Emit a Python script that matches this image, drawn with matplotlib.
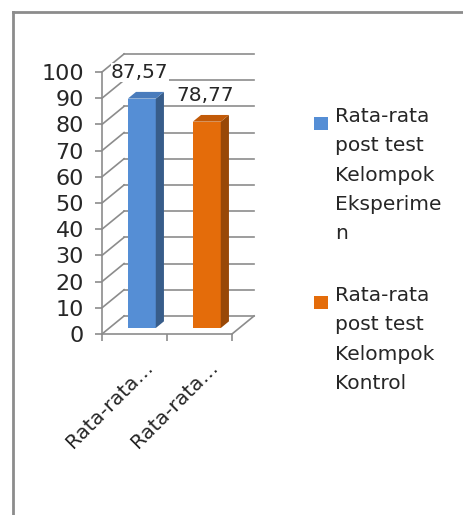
import matplotlib.pyplot as plt
from matplotlib.patches import Polygon, Rectangle
from matplotlib.lines import Line2D

plt.rcParams['font.family'] = ['DejaVu Sans']

# Chart data
categories = ['Rata-rata post test Kelompok Eksperimen',
              'Rata-rata post test Kelompok Kontrol']
values = [87.57, 78.77]
value_labels = ['87,57', '78,77']
tick_labels = ['Rata-rata…', 'Rata-rata…']
legend_labels = ['Rata-rata\npost test\nKelompok\nEksperime\nn',
                 'Rata-rata\npost test\nKelompok\nKontrol']
y_ticks = list(range(0, 101, 10))

front_colors = ['#558ed5', '#e46c0a']
side_colors = ['#385d8a', '#984807']
top_colors = ['#4a7cbc', '#c25a08']
grid_color = '#8c8c8c'
text_color = '#262626'

W, H = 464, 515
fig = plt.figure(figsize=(W / 100, H / 100), dpi=100)
ax = fig.add_axes([102 / W, 1 - 334 / H, 130 / W, 262 / H])
ax.set_xlim(-0.5, 1.5)
ax.set_ylim(0, 100)

# depth of the pseudo 3-D box in data units
DX, DY = 0.34, 6.9
F0, F1 = 0.33, 0.70     # bar position inside the depth
HALF = 0.215            # half bar width

# left wall diagonals and back wall gridlines
for t in y_ticks:
    ax.plot([-0.5, -0.5 + DX], [t, t + DY], color=grid_color, lw=1.2,
            clip_on=False, zorder=1)
    ax.plot([-0.5 + DX, 1.5 + DX], [t + DY, t + DY], color=grid_color,
            lw=1.2, clip_on=False, zorder=1)
# right edge of the floor
ax.plot([1.5, 1.5 + DX], [0, DY], color=grid_color, lw=1.2,
        clip_on=False, zorder=1)

# 3-D looking bars
for i, v in enumerate(values):
    x0 = i - HALF + F0 * DX
    x1 = i + HALF + F0 * DX
    y0 = F0 * DY
    ddx = (F1 - F0) * DX
    ddy = (F1 - F0) * DY
    front = Polygon([(x0, y0), (x1, y0), (x1, v + y0), (x0, v + y0)],
                    closed=True, facecolor=front_colors[i], edgecolor='none',
                    zorder=3, clip_on=False)
    side = Polygon([(x1, y0), (x1 + ddx, y0 + ddy), (x1 + ddx, v + y0 + ddy),
                    (x1, v + y0)], closed=True, facecolor=side_colors[i],
                   edgecolor='none', zorder=3, clip_on=False)
    top = Polygon([(x0, v + y0), (x1, v + y0), (x1 + ddx, v + y0 + ddy),
                   (x0 + ddx, v + y0 + ddy)], closed=True,
                  facecolor=top_colors[i], edgecolor='none', zorder=3,
                  clip_on=False)
    for p in (front, side, top):
        ax.add_patch(p)
    ax.text(i + 0.08, v + 12.2, value_labels[i], ha='center', va='center',
            fontsize=14.5, color=text_color, zorder=4,
            bbox=dict(facecolor='white', edgecolor='none', pad=0))

# axes styling
for s in ('top', 'right'):
    ax.spines[s].set_visible(False)
for s in ('left', 'bottom'):
    ax.spines[s].set_color(grid_color)
    ax.spines[s].set_linewidth(1.2)
ax.set_yticks(y_ticks)
ax.tick_params(axis='y', length=5, width=1.2, color=grid_color, pad=8,
               labelsize=16, labelcolor=text_color)
ax.set_xticks([-0.5, 0.5, 1.5])
ax.set_xticklabels([])
ax.tick_params(axis='x', length=5, width=1.2, color=grid_color)
ax.set_facecolor('none')

for i, lab in enumerate(tick_labels):
    ax.annotate(lab, (i, 0), xytext=(11, -22), textcoords='offset points',
                rotation=45, ha='right', va='center', rotation_mode='anchor',
                fontsize=14.5, color=text_color)

# legend
legend_y = [107, 286]
for i, lab in enumerate(legend_labels):
    fig.add_artist(Rectangle((314 / W, 1 - (legend_y[i] + 23) / H),
                             14 / W, 13 / H, transform=fig.transFigure,
                             facecolor=front_colors[i], edgecolor='none'))
    fig.text(335 / W, 1 - legend_y[i] / H, lab, ha='left', va='top',
             fontsize=14.5, color=text_color, linespacing=1.69)

# chart frame
fig.add_artist(Line2D([13 / W, 1], [1 - 12 / H, 1 - 12 / H],
                      transform=fig.transFigure, color='#8c8c8c', lw=2))
fig.add_artist(Line2D([13 / W, 13 / W], [1 - 12 / H, 0],
                      transform=fig.transFigure, color='#8c8c8c', lw=2))

fig.savefig('out.png', dpi=100)
